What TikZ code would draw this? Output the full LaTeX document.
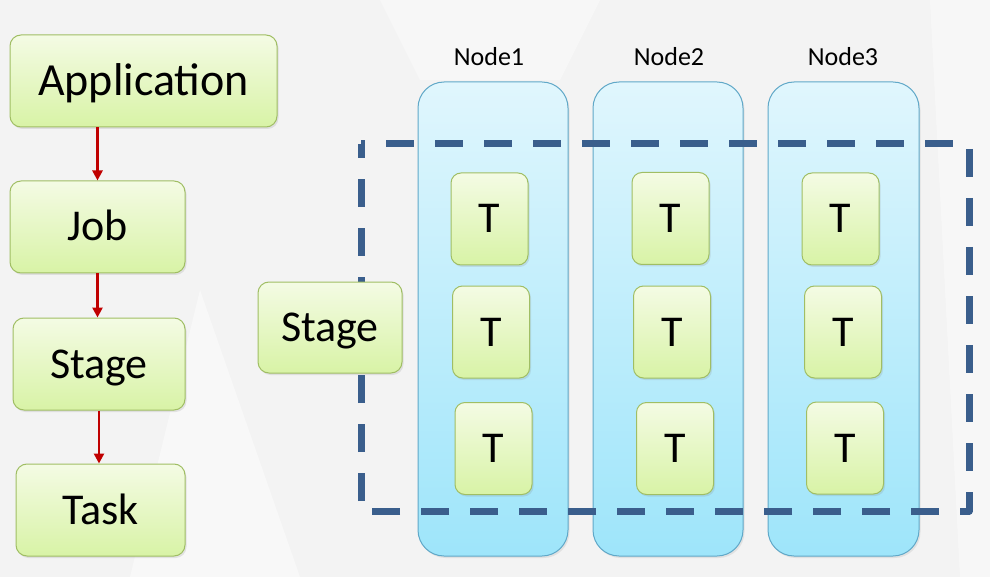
\documentclass[tikz,border=0pt]{standalone}
\usepackage{fontspec}
\setmainfont{Carlito}
\usetikzlibrary{arrows.meta,shadows}
\definecolor{bgc}{RGB}{243,243,243}
\definecolor{gtop}{RGB}{244,251,228}
\definecolor{gbot}{RGB}{216,243,166}
\definecolor{gbrd}{RGB}{160,190,100}
\definecolor{btop}{RGB}{224,246,253}
\definecolor{bbot}{RGB}{158,229,250}
\definecolor{bbrd}{RGB}{96,168,200}
\definecolor{dashc}{RGB}{58,94,140}
\definecolor{arrc}{RGB}{192,0,0}
\tikzset{
  gbox/.style={draw=gbrd, line width=1pt, rounded corners=11pt, top color=gtop, bottom color=gbot,
    inner sep=0pt, font=\fontsize{44}{48}\selectfont, text=black, text height=28pt, text depth=0pt,
    drop shadow={opacity=0.18, shadow xshift=1.5pt, shadow yshift=-2pt}},
  tbox/.style={gbox, minimum width=77pt, minimum height=92pt, rounded corners=10pt},
  colbox/.style={draw=bbrd, line width=1pt, rounded corners=26pt, top color=btop, bottom color=bbot,
    inner sep=0pt, minimum height=474pt,
    drop shadow={opacity=0.15, shadow xshift=1.5pt, shadow yshift=-2pt}},
  lbl/.style={font=\fontsize{26}{28}\selectfont, inner sep=0pt, text=black},
  arr/.style={draw=arrc, line width=2.5pt, -{Triangle[width=10pt,length=10pt]}},
  dashline/.style={draw=dashc, line width=7pt, dash pattern=on 28pt off 21pt, dash phase=24pt}
}
\begin{document}
\begin{tikzpicture}[x=1pt,y=-1pt]
\fill[bgc] (0,0) rectangle (990,577);
\useasboundingbox (0,0) rectangle (990,577);
\fill[white, opacity=0.45] (130,577) -- (200,290) -- (300,577) -- cycle;
\fill[white, opacity=0.4] (380,0) -- (600,0) -- (560,80) -- (420,80) -- cycle;
\fill[white, opacity=0.4] (930,0) -- (990,0) -- (990,577) -- (960,577) -- cycle;

% left hierarchy
\node[gbox, minimum width=267pt, minimum height=92pt, font=\fontsize{46}{50}\selectfont, text height=29pt] (app) at (143.5,81) {Application};
\node[gbox, minimum width=175pt, minimum height=92pt] (job) at (97.5,227) {Job};
\node[gbox, minimum width=172pt, minimum height=92pt] (stg) at (99,364) {Stage};
\node[gbox, minimum width=169pt, minimum height=92pt] (task) at (100.5,510) {Task};

\draw[arr] (app.south -| job.north) -- (job.north);
\draw[arr] (job.south) -- (job.south |- stg.north);
\draw[arr] (stg.south) -- (stg.south |- task.north);

% right side
\node[colbox, minimum width=150pt] (n1) at (493,319) {};
\node[colbox, minimum width=150pt] (n2) at (668,319) {};
\node[colbox, minimum width=151pt] (n3) at (843.5,319) {};

\node[lbl] (l1) at (489,57) {Node1};
\node[lbl] (l2) at (669,57) {Node2};
\node[lbl] (l3) at (843,57) {Node3};

\coordinate (dtl) at (361,144);
\coordinate (dtr) at (969,144);
\coordinate (dbr) at (969,511);
\coordinate (dbl) at (361,511);
\draw[dashline, line join=round] (dtl) -- (dtr) -- (dbr) -- (dbl) -- cycle;

\node[gbox, minimum width=144pt, minimum height=91pt] (stg2) at (330,327.5) {Stage};

\node[tbox] (t11) at (489.5,219) {T};
\node[tbox] (t12) at (491,332) {T};
\node[tbox] (t13) at (493.5,448.5) {T};
\node[tbox] (t21) at (670.5,218.5) {T};
\node[tbox] (t22) at (672,332) {T};
\node[tbox] (t23) at (675,448.5) {T};
\node[tbox] (t31) at (840.5,219) {T};
\node[tbox] (t32) at (843,332) {T};
\node[tbox] (t33) at (845,448) {T};
\end{tikzpicture}
\end{document}
